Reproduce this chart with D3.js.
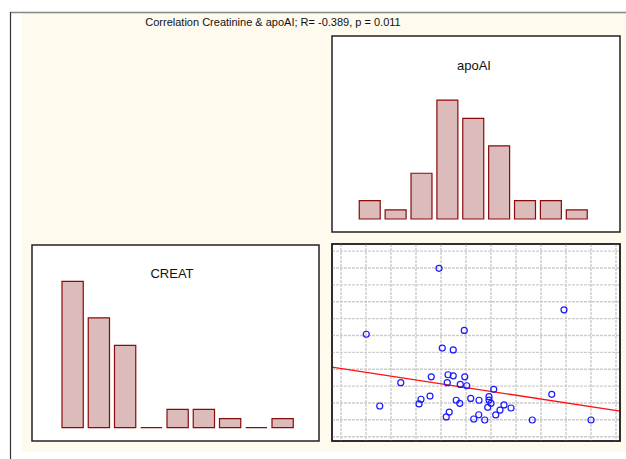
<!DOCTYPE html>
<html>
<head>
<meta charset="utf-8">
<script src="https://cdn.jsdelivr.net/npm/d3@7"></script>
<style>
  body { margin: 0; background: #fff; }
  text { font-family: "Liberation Sans", Arial, sans-serif; fill: #111; }
</style>
</head>
<body>
<div id="chart"></div>
<script>
// values
var title = "Correlation Creatinine & apoAI; R= -0.389, p = 0.011";
var histNames = ["apoAI", "CREAT"];
var apoaiCounts = [2, 1, 5, 13, 11, 8, 2, 2, 1];
var creatCounts = [16, 12, 9, 0, 2, 2, 1, 0, 1];

// scatter: creatinine (x) vs apoAI (y), in grid units
var creatValues = [3.92, 8.92, 1.01, 4.93, 4.05, 4.49, 3.61, 4.28, 4.49, 4.95,
                   2.39, 4.25, 4.77, 5.03, 6.11, 8.43, 3.56, 3.20, 3.12, 1.55,
                   4.61, 4.75, 5.19, 5.52, 5.92, 5.92, 6.00, 5.87, 6.52, 6.36,
                   6.80, 6.19, 4.33, 4.21, 5.51, 5.31, 5.75, 7.65, 10.0];
var apoaiValues = [9.98, 7.52, 6.07, 6.30, 5.25, 5.14, 3.55, 3.67, 3.61, 3.55,
                   3.20, 3.20, 3.10, 3.02, 2.81, 2.51, 2.41, 2.22, 1.94, 1.82,
                   2.16, 1.98, 2.27, 2.16, 2.37, 2.17, 1.98, 1.74, 1.88, 1.58,
                   1.70, 1.29, 1.46, 1.17, 1.30, 1.05, 0.99, 0.99, 0.99];
var fitLine = [4.04, -0.226];   // intercept, slope
var xGrid = [0, 1, 2, 3, 4, 5, 6, 7, 8, 9, 10, 11];
var yGrid = [0, 1, 2, 3, 4, 5, 6, 7, 8, 9, 10, 11];

var width = 626, height = 459;

var svg = d3.select("#chart")
  .append("svg")
    .attr("width", width)
    .attr("height", height);

// page frame
svg.append("rect")
  .attr("x", 22).attr("y", 13)
  .attr("width", width - 22).attr("height", 439)
  .style("fill", "#fffaee");
svg.append("line")
  .attr("x1", 10).attr("x2", width).attr("y1", 12.5).attr("y2", 12.5)
  .style("stroke", "#888").style("stroke-width", 1.5);
svg.append("line")
  .attr("x1", 10.5).attr("x2", 10.5).attr("y1", 12).attr("y2", height)
  .style("stroke", "#333").style("stroke-width", 1.2);

svg.append("text")
  .attr("x", 273).attr("y", 26)
  .attr("text-anchor", "middle")
  .style("font-size", "11px")
  .text(title);

var panels = [
  {x: 332, y: 36, w: 288, h: 196},   // apoAI histogram
  {x: 32, y: 245, w: 287, h: 196},   // CREAT histogram
  {x: 332, y: 244, w: 288, h: 197}   // scatter
];

svg.selectAll("rect.panel")
  .data(panels)
  .enter()
  .append("rect")
    .attr("class", "panel")
    .attr("x", d => d.x).attr("y", d => d.y)
    .attr("width", d => d.w).attr("height", d => d.h)
    .style("fill", "#fff")
    .style("stroke", "#222")
    .style("stroke-width", 1.5);

// histograms
function histogram(counts, name, x0, x1, base, labelX, labelY) {
  var x = d3.scaleBand()
    .domain(d3.range(counts.length))
    .range([x0, x1])
    .paddingInner(0.19)
    .paddingOuter(0.095);
  var y = d3.scaleLinear()
    .domain([0, 16])
    .range([base, base - 146.4]);

  svg.append("g")
    .selectAll("path")
    .data(counts)
    .enter()
    .append("path")
      .attr("d", function(d, i) {
        var l = x(i), r = x(i) + x.bandwidth();
        return "M" + l + "," + y(0) + "V" + y(d) + "H" + r + "V" + y(0) + "Z";
      })
      .style("fill", "#dcbbbb")
      .style("stroke", "#8b0a0a")
      .style("stroke-width", 1.2);

  svg.append("text")
    .attr("x", labelX).attr("y", labelY)
    .attr("text-anchor", "middle")
    .style("font-size", "13px")
    .text(name);
}

histogram(apoaiCounts, histNames[0], 356.8, 589.7, 219, 474, 70);
histogram(creatCounts, histNames[1], 59.5, 295.75, 427.7, 172, 278);

// scatter
var sp = panels[2];
var x = d3.scaleLinear()
  .domain([-0.36, 11.16])
  .range([sp.x, sp.x + sp.w]);
var y = d3.scaleLinear()
  .domain([-0.255, 11.42])
  .range([sp.y + sp.h, sp.y]);

var grid = svg.append("g");
grid.selectAll("line.vx")
  .data(xGrid)
  .enter()
  .append("line")
    .attr("x1", d => x(d)).attr("x2", d => x(d))
    .attr("y1", sp.y).attr("y2", sp.y + sp.h)
    .style("stroke", "#cdcdcd")
    .style("stroke-width", 1.4)
    .style("stroke-dasharray", "3,1");
grid.selectAll("line.hy")
  .data(yGrid)
  .enter()
  .append("line")
    .attr("y1", d => y(d)).attr("y2", d => y(d))
    .attr("x1", sp.x).attr("x2", sp.x + sp.w)
    .style("stroke", "#cdcdcd")
    .style("stroke-width", 1.4)
    .style("stroke-dasharray", "3,1");

var xs = x.domain();
svg.append("line")
  .attr("x1", x(xs[0])).attr("y1", y(fitLine[0] + fitLine[1] * xs[0]))
  .attr("x2", x(xs[1])).attr("y2", y(fitLine[0] + fitLine[1] * xs[1]))
  .style("stroke", "#ff1010")
  .style("stroke-width", 1.3);

svg.append("g")
  .selectAll("circle")
  .data(creatValues.map((v, i) => [v, apoaiValues[i]]))
  .enter()
  .append("circle")
    .attr("cx", d => x(d[0]))
    .attr("cy", d => y(d[1]))
    .attr("r", 3)
    .style("fill", "none")
    .style("stroke", "#1a1aff")
    .style("stroke-width", 1.2);

// redraw scatter frame on top of grid
svg.append("rect")
  .attr("x", sp.x).attr("y", sp.y)
  .attr("width", sp.w).attr("height", sp.h)
  .style("fill", "none")
  .style("stroke", "#222")
  .style("stroke-width", 1.5);
</script>
</body>
</html>
